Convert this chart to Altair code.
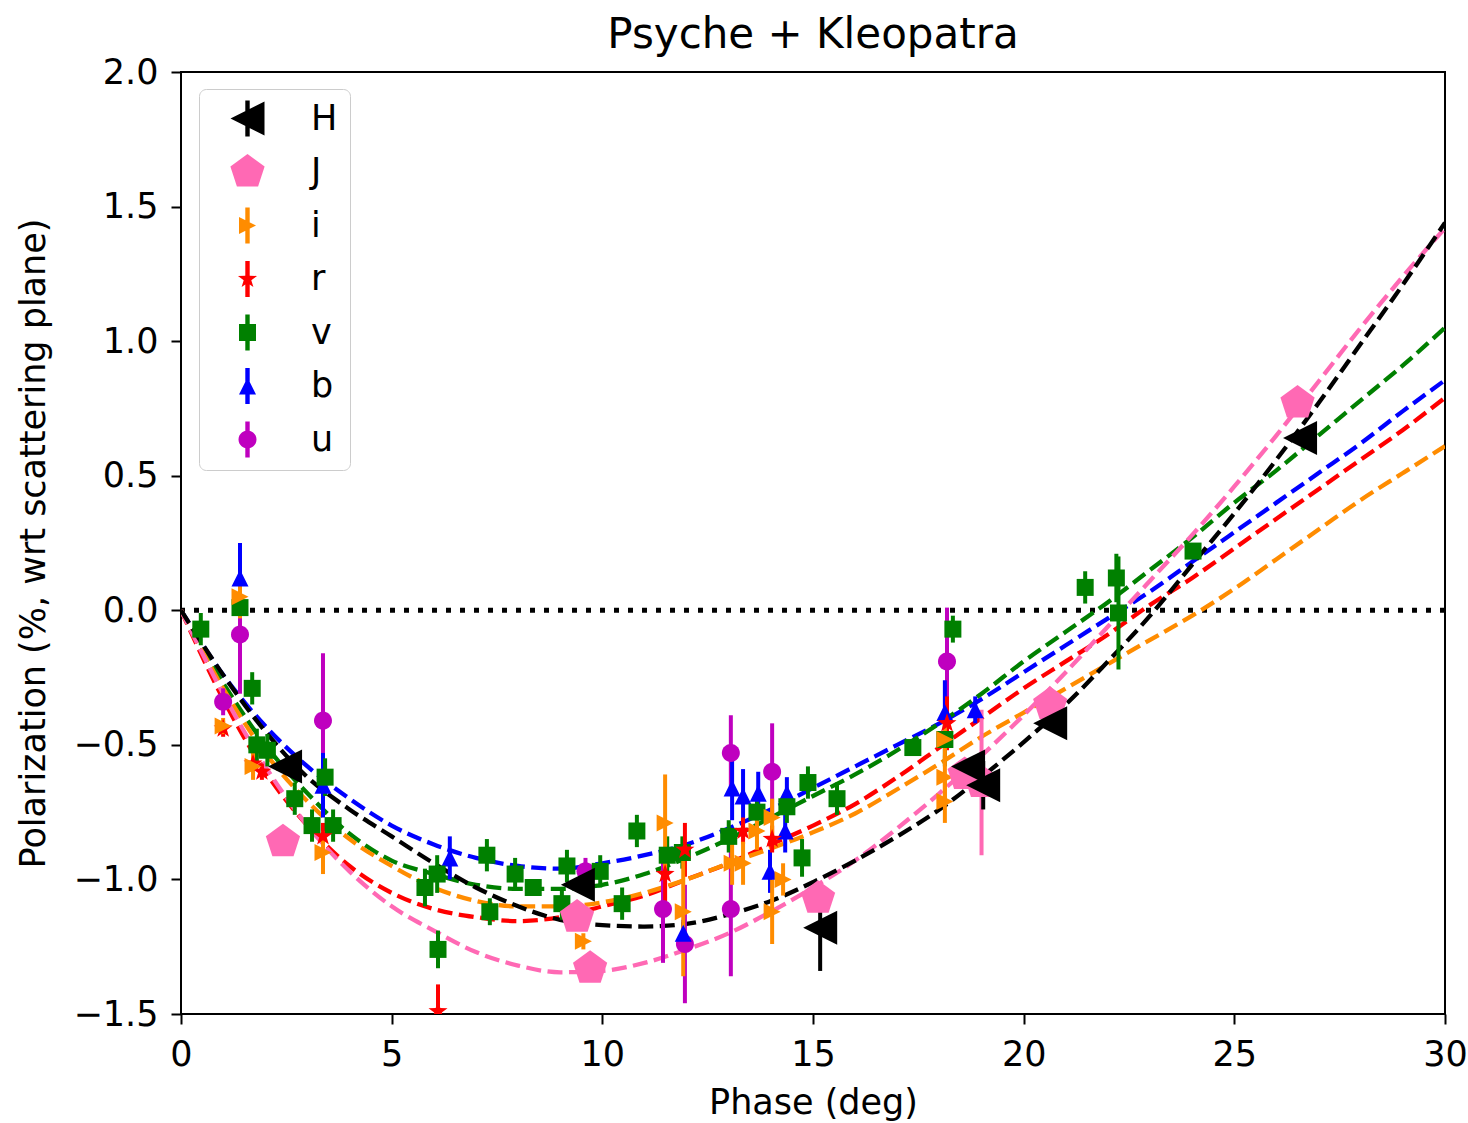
import altair as alt
import pandas as pd
import math

# ---------------- data ----------------
bands = ["H", "J", "i", "r", "v", "b", "u"]
band_colors = ["black", "hotpink", "darkorange", "red", "green", "blue", "#bf00bf"]

H_x = [2.47, 9.42, 15.17, 18.68, 19.04, 20.63, 26.56]
H_y = [-0.58, -1.02, -1.18, -0.58, -0.65, -0.42, 0.64]
H_err = [0.02, 0.02, 0.16, 0.02, 0.09, 0.02, 0.02]

J_x = [2.42, 9.40, 9.71, 15.12, 18.60, 19.00, 20.63, 26.50]
J_y = [-0.86, -1.14, -1.33, -1.07, -0.61, -0.64, -0.35, 0.77]
J_err = [0.02, 0.02, 0.02, 0.02, 0.02, 0.27, 0.02, 0.02]

i_x = [1.40, 1.00, 1.71, 3.37, 9.55, 11.49, 11.92, 13.08, 13.34, 13.67, 14.03, 14.03, 14.29, 18.13, 18.13, 18.13]
i_y = [0.05, -0.43, -0.58, -0.90, -1.23, -0.79, -1.12, -0.94, -0.94, -0.82, -0.77, -1.12, -1.00, -0.48, -0.62, -0.71]
i_err = [0.08, 0.03, 0.05, 0.08, 0.03, 0.18, 0.24, 0.08, 0.08, 0.07, 0.07, 0.12, 0.06, 0.08, 0.08, 0.08]

r_x = [1.00, 1.71, 1.92, 3.37, 6.10, 11.49, 11.96, 13.34, 14.03, 18.18]
r_y = [-0.44, -0.57, -0.60, -0.84, -1.49, -0.98, -0.89, -0.82, -0.85, -0.42]
r_err = [0.03, 0.03, 0.03, 0.05, 0.10, 0.10, 0.10, 0.05, 0.05, 0.10]

v_x = [0.47, 1.40, 1.69, 1.80, 2.05, 2.70, 3.11, 3.42, 3.61, 5.79, 6.08, 6.10, 7.26, 7.33,
       7.93, 8.36, 9.04, 9.16, 9.95, 10.47, 10.82, 11.54, 11.90, 13.00, 13.67, 14.38, 14.74,
       14.88, 15.57, 17.37, 18.13, 18.32, 21.46, 22.20, 22.25, 24.02]
v_y = [-0.07, 0.01, -0.29, -0.50, -0.52, -0.70, -0.80, -0.62, -0.80, -1.03, -0.98, -1.26, -0.91, -1.12,
       -0.98, -1.03, -1.09, -0.95, -0.97, -1.09, -0.82, -0.91, -0.90, -0.84, -0.75, -0.73, -0.92,
       -0.64, -0.70, -0.51, -0.48, -0.07, 0.085, 0.12, -0.01, 0.22]
v_err = [0.06, 0.03, 0.06, 0.06, 0.06, 0.06, 0.06, 0.07, 0.06, 0.07, 0.07, 0.07, 0.06, 0.05,
         0.06, 0.03, 0.06, 0.06, 0.06, 0.06, 0.06, 0.07, 0.06, 0.06, 0.06, 0.06, 0.07,
         0.06, 0.06, 0.03, 0.10, 0.05, 0.06, 0.09, 0.21, 0.03]

b_x = [1.40, 3.37, 6.38, 11.92, 13.08, 13.34, 13.70, 14.38, 14.34, 13.98, 18.13, 18.85]
b_y = [0.12, -0.65, -0.92, -1.20, -0.66, -0.69, -0.68, -0.68, -0.82, -0.97, -0.38, -0.37]
b_err = [0.13, 0.12, 0.08, 0.05, 0.12, 0.10, 0.08, 0.06, 0.08, 0.08, 0.12, 0.05]

u_x = [1.40, 1.00, 3.37, 9.60, 11.44, 11.96, 13.05, 13.05, 14.03, 18.18]
u_y = [-0.09, -0.34, -0.41, -0.97, -1.11, -1.24, -0.53, -1.11, -0.60, -0.19]
u_err = [0.22, 0.05, 0.25, 0.05, 0.20, 0.22, 0.14, 0.25, 0.18, 0.20]

# fitted curves at whole degrees
fit_x = list(range(31))
fit_H = [0, -0.24, -0.45, -0.62, -0.74, -0.84, -0.94, -1.03, -1.10, -1.15, -1.17, -1.175, -1.165, -1.13,
         -1.08, -1.01, -0.93, -0.84, -0.74, -0.62, -0.49, -0.35, -0.19, -0.02, 0.17, 0.36, 0.56, 0.77,
         0.99, 1.21, 1.44]
fit_J = [0, -0.31, -0.58, -0.80, -0.97, -1.10, -1.19, -1.27, -1.32, -1.345, -1.34, -1.31, -1.26, -1.20,
         -1.12, -1.03, -0.93, -0.81, -0.68, -0.54, -0.39, -0.23, -0.06, 0.11, 0.28, 0.46, 0.65, 0.85,
         1.05, 1.24, 1.42]
fit_i = [0, -0.29, -0.53, -0.71, -0.85, -0.95, -1.03, -1.08, -1.10, -1.10, -1.085, -1.05, -1.00, -0.94,
         -0.885, -0.825, -0.755, -0.665, -0.57, -0.47, -0.38, -0.29, -0.20, -0.11, -0.02, 0.08, 0.19, 0.30,
         0.41, 0.51, 0.61]
fit_r = [0, -0.33, -0.60, -0.80, -0.95, -1.05, -1.11, -1.14, -1.155, -1.14, -1.10, -1.06, -1.00, -0.94,
         -0.87, -0.80, -0.72, -0.62, -0.51, -0.40, -0.29, -0.19, -0.09, 0.02, 0.12, 0.23, 0.34, 0.45,
         0.56, 0.67, 0.79]
fit_v = [0, -0.27, -0.50, -0.68, -0.83, -0.93, -0.98, -1.02, -1.035, -1.035, -1.02, -0.98, -0.92, -0.85,
         -0.77, -0.69, -0.61, -0.52, -0.42, -0.31, -0.19, -0.08, 0.03, 0.15, 0.27, 0.40, 0.52, 0.65,
         0.78, 0.91, 1.05]
fit_b = [0, -0.24, -0.43, -0.58, -0.70, -0.80, -0.87, -0.92, -0.95, -0.96, -0.94, -0.91, -0.87, -0.81,
         -0.74, -0.66, -0.58, -0.50, -0.42, -0.33, -0.23, -0.13, -0.03, 0.07, 0.18, 0.29, 0.40, 0.51,
         0.62, 0.74, 0.855]

zero_level = [0.0]

title_text = "Psyche + Kleopatra"
x_title = "Phase (deg)"
y_title = "Polarization (%, wrt scattering plane)"
x_ticks = [0, 5, 10, 15, 20, 25, 30]
y_ticks = [-1.5, -1.0, -0.5, 0.0, 0.5, 1.0, 1.5, 2.0]

# ---------------- tables ----------------
series = {
    "H": (H_x, H_y, H_err), "J": (J_x, J_y, J_err), "i": (i_x, i_y, i_err),
    "r": (r_x, r_y, r_err), "v": (v_x, v_y, v_err), "b": (b_x, b_y, b_err),
    "u": (u_x, u_y, u_err),
}
draw_order = ["u", "b", "v", "r", "i", "J", "H"]
rows = []
for k, band in enumerate(draw_order):
    xs, ys, es = series[band]
    for j, (xx, yy, ee) in enumerate(zip(xs, ys, es)):
        rows.append({"band": band, "x": xx, "y": yy, "err": ee, "ord": k * 100 + j})
pts = pd.DataFrame(rows)

fits = {"H": fit_H, "J": fit_J, "i": fit_i, "r": fit_r, "v": fit_v, "b": fit_b}
crow = []
for band in ["b", "v", "r", "i", "J", "H"]:
    for xx, yy in zip(fit_x, fits[band]):
        crow.append({"band": band, "x": xx, "y": yy})
curves = pd.DataFrame(crow)
zero_df = pd.DataFrame({"y": zero_level})

# ---------------- marker shapes (unit = 10 px at size 400) ----------------
def poly_path(pts_):
    area = 0.0
    n = len(pts_)
    for a in range(n):
        x1, y1 = pts_[a]
        x2, y2 = pts_[(a + 1) % n]
        area += x1 * y2 - x2 * y1
    if area < 0:
        pts_ = list(reversed(pts_))
    return "M" + "L".join(f"{px:.3f},{py:.3f}" for px, py in pts_) + "Z"

def ngon(r, n, start=-90):
    return [(r * math.cos(math.radians(start + 360 * q / n)),
             r * math.sin(math.radians(start + 360 * q / n))) for q in range(n)]

def star(ro, ri):
    p = []
    for q in range(10):
        rr = ro if q % 2 == 0 else ri
        ang = math.radians(-90 + 36 * q)
        p.append((rr * math.cos(ang), rr * math.sin(ang)))
    return p

s = 0.85
shape_pts = {
    "H": [(-1.7, 0), (1.7, -1.7), (1.7, 1.7)],
    "J": ngon(1.8, 5),
    "i": [(s, 0), (-s, -s), (-s, s)],
    "r": star(1.0, 0.40),
    "v": [(-s, -s), (s, -s), (s, s), (-s, s)],
    "b": [(0, -s), (-s, s), (s, s)],
    "u": ngon(0.9, 28),
}
bar = [(-0.22, -1.8), (0.22, -1.8), (0.22, 1.8), (-0.22, 1.8)]
marker_paths = [poly_path(shape_pts[b]) for b in bands]
legend_paths = [poly_path(shape_pts[b]) + ("" if b == "J" else " " + poly_path(bar)) for b in bands]

FONT = "DejaVu Sans"
W, H = 1264, 942

def X():
    return alt.X("x:Q", scale=alt.Scale(domain=[0, 30], nice=False, zero=False),
                 axis=alt.Axis(values=x_ticks, format="d", title=x_title, grid=False, domain=False,
                               tickSize=10, tickWidth=2, tickColor="black", labelFlush=False,
                               labelFont=FONT, labelFontSize=35, labelColor="black", labelPadding=13,
                               titleFont=FONT, titleFontSize=35, titleFontWeight="normal",
                               titleColor="black",
                               titleX=W / 2, titleY=88, titleBaseline="middle", titleAlign="center"))

def Y(field="y:Q"):
    return alt.Y(field, scale=alt.Scale(domain=[-1.5, 2.0], nice=False, zero=False),
                 axis=alt.Axis(values=y_ticks, format=".1f", title=y_title, grid=False, domain=False,
                               tickSize=10, tickWidth=2, tickColor="black", labelFlush=False,
                               labelFont=FONT, labelFontSize=35, labelColor="black", labelPadding=13,
                               titleFont=FONT, titleFontSize=35, titleFontWeight="normal",
                               titleColor="black",
                               titleX=-148, titleY=H / 2, titleAngle=270, titleAlign="center",
                               titleBaseline="middle"))

color_scale = alt.Scale(domain=bands, range=band_colors)

zero = alt.Chart(zero_df).mark_rule(color="black", strokeWidth=5, strokeDash=[5, 9]).encode(
    y=Y("y:Q"))

lines = alt.Chart(curves).mark_line(strokeWidth=4.3, strokeDash=[15, 6.5], interpolate="monotone",
                                    clip=True).encode(
    x=X(), y=Y(),
    color=alt.Color("band:N", scale=color_scale, legend=None),
    detail="band:N",
    order="x:Q",
)

bars = alt.Chart(pts).transform_calculate(
    lo="datum.y - datum.err", hi="datum.y + datum.err"
).mark_rule(strokeWidth=4, clip=True).encode(
    x=X(), y=Y("lo:Q"), y2="hi:Q",
    color=alt.Color("band:N", scale=color_scale, legend=None),
    order="ord:Q",
)

points = alt.Chart(pts).mark_point(filled=True, opacity=1, size=400, strokeWidth=0, clip=True).encode(
    x=X(), y=Y(),
    color=alt.Color("band:N", scale=color_scale, legend=None),
    shape=alt.Shape("band:N", scale=alt.Scale(domain=bands, range=marker_paths), legend=None),
    order="ord:Q",
)

leg = alt.Legend(title=None, orient="none", legendX=18, legendY=17, symbolSize=400,
                 labelFontSize=35, labelFont=FONT, labelColor="black", padding=12,
                 symbolOffset=19, labelOffset=46, rowPadding=16.5, symbolStrokeWidth=0,
                 symbolOpacity=1, strokeColor="#cccccc", fillColor="rgba(255,255,255,0.8)",
                 cornerRadius=7)

legend_layer = alt.Chart(pts).transform_filter("false").mark_point(
    filled=True, opacity=1, size=400, strokeWidth=0).encode(
    x=X(), y=Y(),
    color=alt.Color("band:N", scale=alt.Scale(domain=bands, range=band_colors), legend=leg),
    shape=alt.Shape("band:N", scale=alt.Scale(domain=bands, range=legend_paths), legend=leg),
)

chart = alt.layer(zero, lines, bars, points, legend_layer).resolve_scale(
    color="independent", shape="independent"
).properties(
    width=W, height=H,
    background="white",
    title=alt.TitleParams(title_text, fontSize=42, font=FONT, fontWeight="normal", color="black",
                          anchor="middle", frame="group", offset=6, dy=41, baseline="alphabetic"),
    autosize=alt.AutoSizeParams(type="none"),
    padding={"left": 181, "top": 72, "right": 23, "bottom": 109},
).configure_view(stroke="black", strokeWidth=2)

chart.save("out.html", embed_options={"renderer": "svg", "actions": False})
